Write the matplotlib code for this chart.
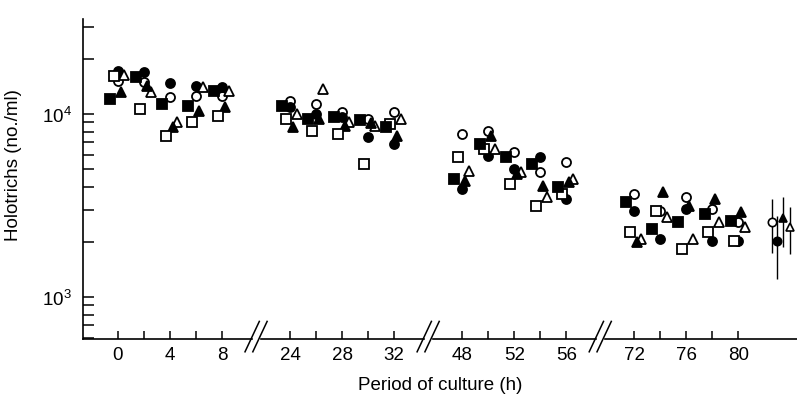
import numpy as np
import matplotlib
matplotlib.use('Agg')
import matplotlib.pyplot as plt
from matplotlib.ticker import LogLocator, NullFormatter, FixedLocator

plt.rcParams['font.family'] = ['Liberation Sans', 'DejaVu Sans']
plt.rcParams['mathtext.fontset'] = 'custom'
plt.rcParams['mathtext.rm'] = 'Liberation Sans'

# sampling times (h) and holotrich counts (no./ml) for each culture
times = [0, 2, 4, 6, 8, 24, 26, 28, 30, 32, 48, 50, 52, 54, 56, 72, 74, 76, 78, 80]
open_circ = [15100, 15000, 12400, 12500, 12500, 11800, 11300, 10300, 9400, 10300,
             7780, 8070, 6190, 4820, 5470, 3650, 2950, 3520, 3030, 2570]
fill_circ = [17200, 17000, 14800, 14200, 14000, 10900, 10000, 9630, 7480, 6850,
             3890, 5890, 5010, 5820, 3440, 2950, 2070, 3020, 2020, 2020]
open_tri = [16300, 13200, 9040, 14000, 13400, 10000, 13700, 9040, 8600, 9400,
            4890, 6440, 4820, 3520, 4410, 2070, 2740, 2070, 2570, 2410]
fill_tri = [13200, 14200, 8500, 10400, 10900, 8500, 9400, 8600, 8930, 7580,
            4310, 7580, 4700, 4040, 4250, 1990, 3750, 3140, 3440, 2910]
open_sq = [16100, 10600, 7580, 9040, 9780, 9400, 8070, 7770, 5330, 8820,
           5820, 6440, 4140, 3140, 3650, 2260, 2950, 1830, 2260, 2020]
fill_sq = [12100, 15900, 11300, 11100, 13400, 11100, 9400, 9630, 9300, 8490,
           4410, 6850, 5820, 5330, 3990, 3300, 2350, 2570, 2850, 2600]

# overall means +/- s.d. (right hand side)
mean_vals = [2570, 2020, 2700, 2410]
mean_sd = [840, 760, 820, 690]

xtick_h = times
xtick_lab = ['0', '', '4', '', '8', '24', '', '28', '', '32',
             '48', '', '52', '', '56', '72', '', '76', '', '80']

gap = 10.77   # hours cut out at each axis break


def pos(t):
    """ map culture time onto the broken axis """
    t = np.asarray(t, dtype=float)
    return t - gap * (t // 24)


fig = plt.figure(figsize=(7.97, 4.02), dpi=100)
ax = fig.add_axes([83/797., 62/402., 714/797., 320/402.])

series = [(open_circ, 'o', 'w', 0.0), (fill_circ, 'o', 'k', 0.0),
          (open_tri, '^', 'w', 0.5), (fill_tri, '^', 'k', 0.2),
          (open_sq, 's', 'w', -0.3), (fill_sq, 's', 'k', -0.6)]
for vals, m, fc, off in series:
    ax.plot(pos(times) + off, vals, ls='none', marker=m, mfc=fc, mec='k',
            ms=6.5, mew=1.3, zorder=3)

# means with error bars
mk = [('o', 'w'), ('o', 'k'), ('^', 'k'), ('^', 'w')]
moff = [-0.6, -0.2, 0.25, 0.75]
for i in range(4):
    ax.errorbar(pos(83.2) + moff[i], mean_vals[i], yerr=mean_sd[i], fmt=mk[i][0],
                mfc=mk[i][1], mec='k', ms=6, mew=1.2, ecolor='k',
                elinewidth=1.0, capsize=0, zorder=3)

ax.set_yscale('log')
ax.set_ylim(590, 33000)
ax.set_xlim(-2.69, 52.2)

ax.yaxis.set_major_locator(FixedLocator([1e3, 1e4]))
ax.set_yticklabels([r'$\mathregular{10^3}$', r'$\mathregular{10^4}$'])
ax.yaxis.set_minor_locator(LogLocator(base=10, subs=np.arange(2, 10)))
ax.yaxis.set_minor_formatter(NullFormatter())

ax.set_xticks(pos(xtick_h))
ax.set_xticklabels(xtick_lab)

ax.tick_params(axis='y', which='both', direction='in', length=8, width=1.1,
               labelsize=13.5, pad=8)
ax.tick_params(axis='x', direction='in', length=6, width=1.1,
               labelsize=13.5, pad=5)

for s in ['top', 'right', 'bottom']:
    ax.spines[s].set_visible(False)
ax.spines['left'].set_linewidth(1.2)

# broken x axis
brk = [(pos(8) + pos(24)) / 2, (pos(32) + pos(48)) / 2, (pos(56) + pos(72)) / 2]
tr = ax.get_xaxis_transform()
edges = [-2.69] + [e for b in brk for e in (b - 0.35, b + 0.35)] + [52.2]
for a, b in zip(edges[::2], edges[1::2]):
    ax.plot([a, b], [0, 0], color='k', lw=1.2, transform=tr, clip_on=False)
for b in brk:
    for d in (-0.3, 0.3):
        ax.plot([b + d - 0.55, b + d + 0.55], [-0.04, 0.055], color='k',
                lw=1.1, transform=tr, clip_on=False)

ax.set_ylabel('Holotrichs (no./ml)', fontsize=13.5)
ax.yaxis.set_label_coords(-0.085, 0.547)
ax.set_xlabel('Period of culture (h)', fontsize=13.5)
ax.xaxis.set_label_coords(0.5, -0.115)

fig.savefig('out.png', dpi=100)
